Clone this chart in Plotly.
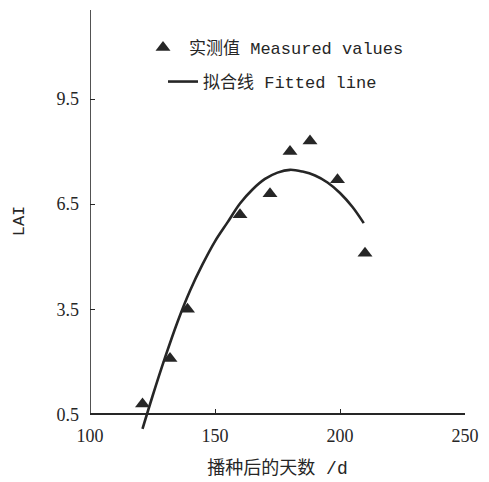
import plotly.graph_objects as go

# Measured LAI values
meas_x = [121, 132, 139, 160, 172, 180, 188, 199, 210]
meas_y = [0.8, 2.1, 3.5, 6.2, 6.8, 8.0, 8.3, 7.2, 5.1]

# Fitted line
fit_x = [121, 125, 130, 135, 140, 145, 150, 155, 160, 165, 170, 175, 180, 185, 190, 195, 200, 205, 209.5]
fit_y = [0.09, 1.02, 2.12, 3.14, 4.03, 4.78, 5.44, 5.98, 6.52, 6.92, 7.22, 7.40, 7.48, 7.43, 7.32, 7.12, 6.82, 6.42, 5.96]

x_ticks = [100, 150, 200, 250]
y_ticks = [0.5, 3.5, 6.5, 9.5]
y_tick_labels = ["0.5", "3.5", "6.5", "9.5"]

x_range = [100, 250]
y_range = [0.0, 12.04]
y_axis_base = 0.5

ink = "#262626"
mono = "Liberation Mono, Noto Sans CJK SC"
serif = "Liberation Serif, Noto Sans CJK SC"

fig = go.Figure()
fig.add_trace(go.Scatter(
    x=meas_x, y=meas_y, mode="markers", name="实测值 Measured values",
    marker=dict(symbol="triangle-up", size=13, color=ink),
    legend="legend", cliponaxis=False,
))
fig.add_trace(go.Scatter(
    x=fit_x, y=fit_y, mode="lines", name="拟合线 Fitted line",
    line=dict(color=ink, width=2.6, shape="spline"),
    legend="legend2",
))

# y axis line from the x-axis baseline to the top
fig.add_shape(type="line", xref="x", yref="y",
              x0=x_range[0], x1=x_range[0], y0=y_axis_base, y1=y_range[1],
              line=dict(color=ink, width=1.6))

fig.update_layout(
    width=489, height=482,
    margin=dict(l=90, r=24, t=10, b=50, autoexpand=False),
    paper_bgcolor="white", plot_bgcolor="white",
    xaxis=dict(
        range=x_range, tickvals=x_ticks, ticks="inside", ticklen=5, automargin=False,
        tickwidth=1.4, tickcolor=ink, showline=True, linecolor=ink, linewidth=1.6,
        showgrid=False, zeroline=False, anchor="free",
        position=(y_axis_base - y_range[0]) / (y_range[1] - y_range[0]),
        tickfont=dict(family=serif, size=18, color=ink), ticklabelstandoff=5,
        title=dict(text="播种后的天数 /d", font=dict(family=mono, size=18, color=ink), standoff=16),
    ),
    yaxis=dict(
        range=y_range, tickvals=y_ticks, ticktext=y_tick_labels, ticks="inside", ticklen=5,
        automargin=False,
        tickwidth=1.4, tickcolor=ink, showline=False, showgrid=False, zeroline=False,
        tickfont=dict(family=serif, size=18, color=ink), ticklabelstandoff=10,
        title=dict(text="LAI", font=dict(family=mono, size=17, color=ink), standoff=27),
    ),
    legend=dict(x=(137 - 90) / 375, y=1 - (48 - 10) / 422, xanchor="left", yanchor="middle",
                itemwidth=42,
                bgcolor="rgba(0,0,0,0)", font=dict(family=mono, size=17, color=ink)),
    legend2=dict(x=(163 - 90) / 375, y=1 - (82 - 10) / 422, xanchor="left", yanchor="middle",
                 bgcolor="rgba(0,0,0,0)", font=dict(family=mono, size=17, color=ink)),
    showlegend=True,
)

fig.write_html("out.html", config={"displayModeBar": False},
               post_script="document.body.style.margin='0';document.body.style.overflow='hidden';")
